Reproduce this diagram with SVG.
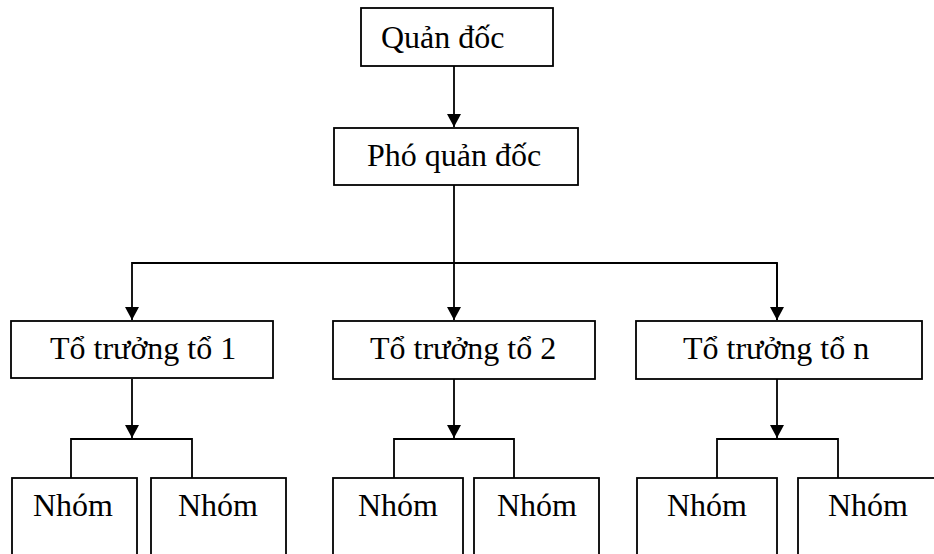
<svg xmlns="http://www.w3.org/2000/svg" width="934" height="554" viewBox="0 0 934 554">
  <style>
    .box { fill: #ffffff; stroke: #000000; stroke-width: 1.8; }
    .lbl { font-family: "Liberation Serif", "Times New Roman", serif; font-size: 32px; fill: #000000; }
    .wire { fill: none; stroke: #000000; stroke-width: 1.8; }
  </style>
  <defs>
    <marker id="head" markerUnits="userSpaceOnUse" markerWidth="14" markerHeight="14" viewBox="0 0 14 14" refX="13" refY="7" orient="auto">
      <path d="M0,0 L13,7 L0,14 Z" fill="#000000"/>
    </marker>
  </defs>

  <rect width="934" height="554" fill="#ffffff"/>

  <!-- connectors -->
  <g id="connectors" class="wire">
    <line x1="454" y1="66" x2="454" y2="127" marker-end="url(#head)"/>
    <line x1="454" y1="185" x2="454" y2="320" marker-end="url(#head)"/>
    <polyline points="777,320 777,263 132,263 132,320" marker-end="url(#head)"/>
    <line x1="777" y1="263" x2="777" y2="320" marker-end="url(#head)"/>
    <line x1="132" y1="379" x2="132" y2="438" marker-end="url(#head)"/>
    <line x1="454" y1="379" x2="454" y2="438" marker-end="url(#head)"/>
    <line x1="777" y1="379" x2="777" y2="438" marker-end="url(#head)"/>
    <polyline points="71,478 71,439 192,439 192,478"/>
    <polyline points="394,478 394,439 514,439 514,478"/>
    <polyline points="717,478 717,439 838,439 838,478"/>
  </g>

  <!-- top level -->
  <g id="quan-doc">
    <rect class="box" x="361" y="8" width="192" height="58"/>
    <text class="lbl" x="381" y="48">Quản đốc</text>
  </g>
  <g id="pho-quan-doc">
    <rect class="box" x="334" y="128" width="244" height="57"/>
    <text class="lbl" x="367" y="166">Phó quản đốc</text>
  </g>

  <!-- team leaders -->
  <g id="to-truong-1">
    <rect class="box" x="11" y="321" width="262" height="57"/>
    <text class="lbl" x="50" y="359">Tổ trưởng tổ 1</text>
  </g>
  <g id="to-truong-2">
    <rect class="box" x="333" y="321" width="262" height="58"/>
    <text class="lbl" x="370" y="359">Tổ trưởng tổ 2</text>
  </g>
  <g id="to-truong-n">
    <rect class="box" x="636" y="321" width="286" height="58"/>
    <text class="lbl" x="683" y="359">Tổ trưởng tổ n</text>
  </g>

  <!-- groups (boxes run past the bottom edge) -->
  <g id="nhom-1a">
    <rect class="box" x="12" y="478" width="125" height="100"/>
    <text class="lbl" x="33" y="516">Nhóm</text>
  </g>
  <g id="nhom-1b">
    <rect class="box" x="151" y="478" width="135" height="100"/>
    <text class="lbl" x="178" y="516">Nhóm</text>
  </g>
  <g id="nhom-2a">
    <rect class="box" x="333" y="478" width="130" height="100"/>
    <text class="lbl" x="358" y="516">Nhóm</text>
  </g>
  <g id="nhom-2b">
    <rect class="box" x="474" y="478" width="125" height="100"/>
    <text class="lbl" x="497" y="516">Nhóm</text>
  </g>
  <g id="nhom-na">
    <rect class="box" x="637" y="478" width="140" height="100"/>
    <text class="lbl" x="667" y="516">Nhóm</text>
  </g>
  <g id="nhom-nb">
    <rect class="box" x="798" y="478" width="200" height="100"/>
    <text class="lbl" x="828" y="516">Nhóm</text>
  </g>
</svg>
